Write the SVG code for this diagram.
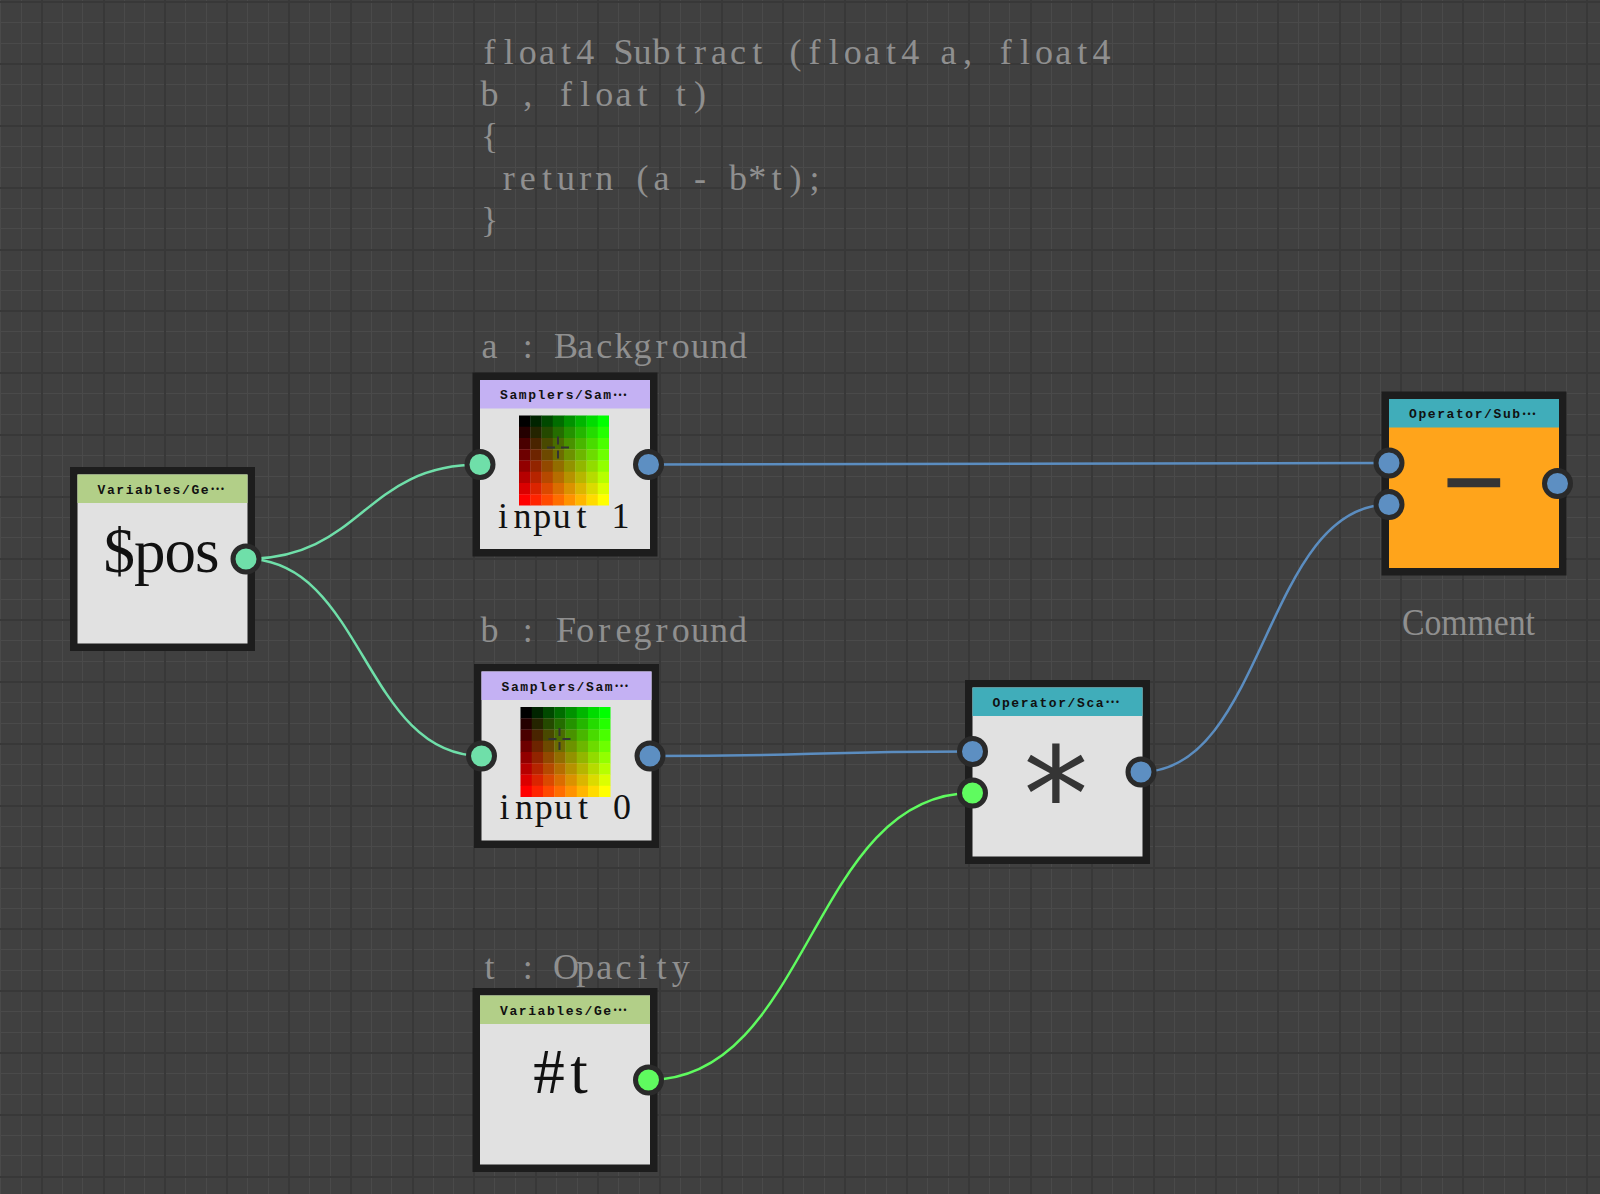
<svg xmlns="http://www.w3.org/2000/svg" xmlns:xlink="http://www.w3.org/1999/xlink" width="1600" height="1194" viewBox="0 0 1600 1194">
<style>
.frame{fill:#1d1d1d}
.body{fill:#e1e1e1}
.hv{fill:#b2cf88}
.hs{fill:#c4b1f3}
.ho{fill:#40adba}
.orange{fill:#ffa41b}
.hdr{font-family:"Liberation Mono","Noto Sans CJK SC",monospace;font-weight:bold;font-size:13px;fill:#111;text-anchor:middle}
.ell{font-family:"Noto Sans CJK SC",sans-serif;font-weight:bold}
.big{font-family:"Liberation Serif",serif;font-size:63px;fill:#111;text-anchor:middle}
.inp{font-family:"Liberation Serif",serif;font-size:36px;fill:#111;text-anchor:middle}
.gray{font-family:"Liberation Serif",serif;font-size:36px;fill:#8f8f8f;text-anchor:middle}
.sym{font-family:"Liberation Sans",sans-serif;fill:#353535;stroke:#353535;text-anchor:middle}
.star{font-family:"DejaVu Sans Mono",monospace;font-size:130px;fill:#353535;text-anchor:middle}
.port{stroke:#2a2a2a;stroke-width:5}
.pm{fill:#6fdfa9}
.pb{fill:#5d8fc2}
.pg{fill:#5ffb5f}
.wire{fill:none;stroke-width:2.5}
.wm{stroke:#6fdfa9}
.wb{stroke:#5b8dc0}
.wg{stroke:#5ffb5f}
</style>
<defs>
<g id="cg">
<rect x="0" y="0" width="11.5" height="11.5" fill="#000000"/><rect x="11.25" y="0" width="11.5" height="11.5" fill="#002400"/><rect x="22.5" y="0" width="11.5" height="11.5" fill="#004900"/><rect x="33.75" y="0" width="11.5" height="11.5" fill="#006d00"/><rect x="45" y="0" width="11.5" height="11.5" fill="#009200"/><rect x="56.25" y="0" width="11.5" height="11.5" fill="#00b600"/><rect x="67.5" y="0" width="11.5" height="11.5" fill="#00db00"/><rect x="78.75" y="0" width="11.25" height="11.5" fill="#00ff00"/>
<rect x="0" y="11.25" width="11.5" height="11.5" fill="#240000"/><rect x="11.25" y="11.25" width="11.5" height="11.5" fill="#242400"/><rect x="22.5" y="11.25" width="11.5" height="11.5" fill="#244900"/><rect x="33.75" y="11.25" width="11.5" height="11.5" fill="#246d00"/><rect x="45" y="11.25" width="11.5" height="11.5" fill="#249200"/><rect x="56.25" y="11.25" width="11.5" height="11.5" fill="#24b600"/><rect x="67.5" y="11.25" width="11.5" height="11.5" fill="#24db00"/><rect x="78.75" y="11.25" width="11.25" height="11.5" fill="#24ff00"/>
<rect x="0" y="22.5" width="11.5" height="11.5" fill="#490000"/><rect x="11.25" y="22.5" width="11.5" height="11.5" fill="#492400"/><rect x="22.5" y="22.5" width="11.5" height="11.5" fill="#494900"/><rect x="33.75" y="22.5" width="11.5" height="11.5" fill="#496d00"/><rect x="45" y="22.5" width="11.5" height="11.5" fill="#499200"/><rect x="56.25" y="22.5" width="11.5" height="11.5" fill="#49b600"/><rect x="67.5" y="22.5" width="11.5" height="11.5" fill="#49db00"/><rect x="78.75" y="22.5" width="11.25" height="11.5" fill="#49ff00"/>
<rect x="0" y="33.75" width="11.5" height="11.5" fill="#6d0000"/><rect x="11.25" y="33.75" width="11.5" height="11.5" fill="#6d2400"/><rect x="22.5" y="33.75" width="11.5" height="11.5" fill="#6d4900"/><rect x="33.75" y="33.75" width="11.5" height="11.5" fill="#6d6d00"/><rect x="45" y="33.75" width="11.5" height="11.5" fill="#6d9200"/><rect x="56.25" y="33.75" width="11.5" height="11.5" fill="#6db600"/><rect x="67.5" y="33.75" width="11.5" height="11.5" fill="#6ddb00"/><rect x="78.75" y="33.75" width="11.25" height="11.5" fill="#6dff00"/>
<rect x="0" y="45" width="11.5" height="11.5" fill="#920000"/><rect x="11.25" y="45" width="11.5" height="11.5" fill="#922400"/><rect x="22.5" y="45" width="11.5" height="11.5" fill="#924900"/><rect x="33.75" y="45" width="11.5" height="11.5" fill="#926d00"/><rect x="45" y="45" width="11.5" height="11.5" fill="#929200"/><rect x="56.25" y="45" width="11.5" height="11.5" fill="#92b600"/><rect x="67.5" y="45" width="11.5" height="11.5" fill="#92db00"/><rect x="78.75" y="45" width="11.25" height="11.5" fill="#92ff00"/>
<rect x="0" y="56.25" width="11.5" height="11.5" fill="#b60000"/><rect x="11.25" y="56.25" width="11.5" height="11.5" fill="#b62400"/><rect x="22.5" y="56.25" width="11.5" height="11.5" fill="#b64900"/><rect x="33.75" y="56.25" width="11.5" height="11.5" fill="#b66d00"/><rect x="45" y="56.25" width="11.5" height="11.5" fill="#b69200"/><rect x="56.25" y="56.25" width="11.5" height="11.5" fill="#b6b600"/><rect x="67.5" y="56.25" width="11.5" height="11.5" fill="#b6db00"/><rect x="78.75" y="56.25" width="11.25" height="11.5" fill="#b6ff00"/>
<rect x="0" y="67.5" width="11.5" height="11.5" fill="#db0000"/><rect x="11.25" y="67.5" width="11.5" height="11.5" fill="#db2400"/><rect x="22.5" y="67.5" width="11.5" height="11.5" fill="#db4900"/><rect x="33.75" y="67.5" width="11.5" height="11.5" fill="#db6d00"/><rect x="45" y="67.5" width="11.5" height="11.5" fill="#db9200"/><rect x="56.25" y="67.5" width="11.5" height="11.5" fill="#dbb600"/><rect x="67.5" y="67.5" width="11.5" height="11.5" fill="#dbdb00"/><rect x="78.75" y="67.5" width="11.25" height="11.5" fill="#dbff00"/>
<rect x="0" y="78.75" width="11.5" height="11.25" fill="#ff0000"/><rect x="11.25" y="78.75" width="11.5" height="11.25" fill="#ff2400"/><rect x="22.5" y="78.75" width="11.5" height="11.25" fill="#ff4900"/><rect x="33.75" y="78.75" width="11.5" height="11.25" fill="#ff6d00"/><rect x="45" y="78.75" width="11.5" height="11.25" fill="#ff9200"/><rect x="56.25" y="78.75" width="11.5" height="11.25" fill="#ffb600"/><rect x="67.5" y="78.75" width="11.5" height="11.25" fill="#ffdb00"/><rect x="78.75" y="78.75" width="11.25" height="11.25" fill="#ffff00"/>
<path d="M28 32H36M42 32H50M39 21V29M39 35V43" stroke="#333333" stroke-width="2" fill="none"/>
</g>
</defs>

<g id="background">
<rect x="0" y="0" width="1600" height="1194" fill="#404040"/>
<g shape-rendering="crispEdges" fill="none">
<path stroke="#4a4a4a" stroke-width="1" d="M0.5 0V1194M21.1 0V1194M62.3 0V1194M82.9 0V1194M124.1 0V1194M144.7 0V1194M185.9 0V1194M206.5 0V1194M247.7 0V1194M268.3 0V1194M309.5 0V1194M330.1 0V1194M371.3 0V1194M391.9 0V1194M433.1 0V1194M453.7 0V1194M494.9 0V1194M515.5 0V1194M556.7 0V1194M577.3 0V1194M618.5 0V1194M639.1 0V1194M680.3 0V1194M700.9 0V1194M742.1 0V1194M762.7 0V1194M803.9 0V1194M824.5 0V1194M865.7 0V1194M886.3 0V1194M927.5 0V1194M948.1 0V1194M989.3 0V1194M1009.9 0V1194M1051.1 0V1194M1071.7 0V1194M1112.9 0V1194M1133.5 0V1194M1174.7 0V1194M1195.3 0V1194M1236.5 0V1194M1257.1 0V1194M1298.3 0V1194M1318.9 0V1194M1360.1 0V1194M1380.7 0V1194M1421.9 0V1194M1442.5 0V1194M1483.7 0V1194M1504.3 0V1194M1545.5 0V1194M1566.1 0V1194
M0 22.9H1600M0 43.5H1600M0 84.7H1600M0 105.3H1600M0 146.5H1600M0 167.1H1600M0 208.3H1600M0 228.9H1600M0 270.1H1600M0 290.7H1600M0 331.9H1600M0 352.5H1600M0 393.7H1600M0 414.3H1600M0 455.5H1600M0 476.1H1600M0 517.3H1600M0 537.9H1600M0 579.1H1600M0 599.7H1600M0 640.9H1600M0 661.5H1600M0 702.7H1600M0 723.3H1600M0 764.5H1600M0 785.1H1600M0 826.3H1600M0 846.9H1600M0 888.1H1600M0 908.7H1600M0 949.9H1600M0 970.5H1600M0 1011.7H1600M0 1032.3H1600M0 1073.5H1600M0 1094.1H1600M0 1135.3H1600M0 1155.9H1600"/>
<path stroke="#383838" stroke-width="2" d="M41.7 0V1194M103.5 0V1194M165.3 0V1194M227.1 0V1194M288.9 0V1194M350.7 0V1194M412.5 0V1194M474.3 0V1194M536.1 0V1194M597.9 0V1194M659.7 0V1194M721.5 0V1194M783.3 0V1194M845.1 0V1194M906.9 0V1194M968.7 0V1194M1030.5 0V1194M1092.3 0V1194M1154.1 0V1194M1215.9 0V1194M1277.7 0V1194M1339.5 0V1194M1401.3 0V1194M1463.1 0V1194M1524.9 0V1194M1586.7 0V1194
M0 2.3H1600M0 64.1H1600M0 125.9H1600M0 187.7H1600M0 249.5H1600M0 311.3H1600M0 373.1H1600M0 434.9H1600M0 496.7H1600M0 558.5H1600M0 620.3H1600M0 682.1H1600M0 743.9H1600M0 805.7H1600M0 867.5H1600M0 929.3H1600M0 991.1H1600M0 1052.9H1600M0 1114.7H1600M0 1176.5H1600"/>
</g>
</g>

<g id="code-comment">
<text class="gray" y="63.5" x="489.6 508.7 527.8 546.9 566.0 585.2 604.3 623.4 642.5 661.6 680.8 699.9 719.0 738.1 757.2 776.4 795.5 814.6 833.7 852.8 872.0 891.1 910.2 929.3 948.4 967.6 986.7 1005.8 1024.9 1044.0 1063.2 1082.3 1101.4">float4 Subtract (float4 a, float4</text>
<text class="gray" y="105.5" x="489.6 508.7 527.8 546.9 566.0 585.2 604.3 623.4 642.5 661.6 680.8 699.9">b , float t)</text>
<text class="gray" y="147.5" x="489.6">{</text>
<text class="gray" y="189.5" x="508.7 527.8 546.9 566.0 585.2 604.3 623.4 642.5 661.6 680.8 699.9 719.0 738.1 757.2 776.4 795.5 814.6">return (a - b*t);</text>
<text class="gray" y="231.5" x="489.6">}</text>
</g>

<g id="labels">
<text class="gray" y="358" x="489.6 508.7 527.8 546.9 566.0 585.2 604.3 623.4 642.5 661.6 680.8 699.9 719.0 738.1">a : Background</text>
<text class="gray" y="642" x="489.6 508.7 527.8 546.9 566.0 585.2 604.3 623.4 642.5 661.6 680.8 699.9 719.0 738.1">b : Foreground</text>
<text class="gray" y="978.5" x="489.6 508.7 527.8 546.9 566.0 585.2 604.3 623.4 642.5 661.6 680.8">t : Opacity</text>
<text class="gray" y="635" x="1468.5" style="font-size:37px" textLength="133" lengthAdjust="spacingAndGlyphs">Comment</text>
</g>

<g id="connectors">
<path class="wire wm" d="M246 559C363 559 363 464.5 480 464.5"/>
<path class="wire wm" d="M246 559C363.75 559 363.75 756 481.5 756"/>
<path class="wire wb" d="M648.5 464.5C1018.75 464.5 1018.75 463 1389 463"/>
<path class="wire wb" d="M650 756C811.25 756 811.25 751.5 972.5 751.5"/>
<path class="wire wg" d="M648.5 1080C810.5 1080 810.5 793 972.5 793"/>
<path class="wire wb" d="M1141 772C1265 772 1265 504.5 1389 504.5"/>
</g>

<g id="node-pos" transform="translate(77.5,474.5)">
<rect class="frame" x="-7.5" y="-7.5" width="185" height="184"/>
<rect class="body" x="0" y="0" width="170" height="169"/>
<rect class="hv" x="0" y="0" width="170" height="28.5"/>
<text class="hdr" x="83.5" y="19" textLength="127" lengthAdjust="spacing">Variables/Ge<tspan class="ell" dy="-3.5">…</tspan></text>
<text class="big" x="84" y="97" textLength="116" lengthAdjust="spacing">$pos</text>
<circle class="port pm" cx="168.5" cy="84.5" r="13"/>
</g>

<g id="node-sampler-a" transform="translate(480,380)">
<rect class="frame" x="-7.5" y="-7.5" width="185" height="184"/>
<rect class="body" x="0" y="0" width="170" height="169"/>
<rect class="hs" x="0" y="0" width="170" height="28.5"/>
<text class="hdr" x="83.5" y="19" textLength="127" lengthAdjust="spacing">Samplers/Sam<tspan class="ell" dy="-3.5">…</tspan></text>
<use xlink:href="#cg" href="#cg" x="39" y="35.5"/>
<text class="inp" y="147.5" x="23 42.6 62.2 81.8 101.4 121 140.6">input 1</text>
<circle class="port pm" cx="0" cy="84.5" r="13"/>
<circle class="port pb" cx="168.5" cy="84.5" r="13"/>
</g>

<g id="node-sampler-b" transform="translate(481.5,671.5)">
<rect class="frame" x="-7.5" y="-7.5" width="185" height="184"/>
<rect class="body" x="0" y="0" width="170" height="169"/>
<rect class="hs" x="0" y="0" width="170" height="28.5"/>
<text class="hdr" x="83.5" y="19" textLength="127" lengthAdjust="spacing">Samplers/Sam<tspan class="ell" dy="-3.5">…</tspan></text>
<use xlink:href="#cg" href="#cg" x="39" y="35.5"/>
<text class="inp" y="147.5" x="23 42.6 62.2 81.8 101.4 121 140.6">input 0</text>
<circle class="port pm" cx="0" cy="84.5" r="13"/>
<circle class="port pb" cx="168.5" cy="84.5" r="13"/>
</g>

<g id="node-opacity" transform="translate(480,995.5)">
<rect class="frame" x="-7.5" y="-7.5" width="185" height="184"/>
<rect class="body" x="0" y="0" width="170" height="169"/>
<rect class="hv" x="0" y="0" width="170" height="28.5"/>
<text class="hdr" x="83.5" y="19" textLength="127" lengthAdjust="spacing">Variables/Ge<tspan class="ell" dy="-3.5">…</tspan></text>
<text class="big" x="69 99" y="97.5">#t</text>
<circle class="port pg" cx="168.5" cy="84.5" r="13"/>
</g>

<g id="node-scale" transform="translate(972.5,687.5)">
<rect class="frame" x="-7.5" y="-7.5" width="185" height="184"/>
<rect class="body" x="0" y="0" width="170" height="169"/>
<rect class="ho" x="0" y="0" width="170" height="28.5"/>
<text class="hdr" x="83.5" y="19" textLength="127" lengthAdjust="spacing">Operator/Sca<tspan class="ell" dy="-3.5">…</tspan></text>
<text class="star" x="83.5" y="152">*</text>
<circle class="port pb" cx="0" cy="64" r="13"/>
<circle class="port pg" cx="0" cy="105.5" r="13"/>
<circle class="port pb" cx="168.5" cy="84.5" r="13"/>
</g>

<g id="node-subtract" transform="translate(1389,399)">
<rect class="frame" x="-7.5" y="-7.5" width="185" height="184"/>
<rect class="orange" x="0" y="0" width="170" height="169"/>
<rect class="ho" x="0" y="0" width="170" height="28.5"/>
<text class="hdr" x="83.5" y="19" textLength="127" lengthAdjust="spacing">Operator/Sub<tspan class="ell" dy="-3.5">…</tspan></text>
<text class="sym" x="85" y="119" style="font-size:106px;stroke-width:1.2">−</text>
<circle class="port pb" cx="0" cy="64" r="13"/>
<circle class="port pb" cx="0" cy="105.5" r="13"/>
<circle class="port pb" cx="168.5" cy="84.5" r="13"/>
</g>
</svg>
